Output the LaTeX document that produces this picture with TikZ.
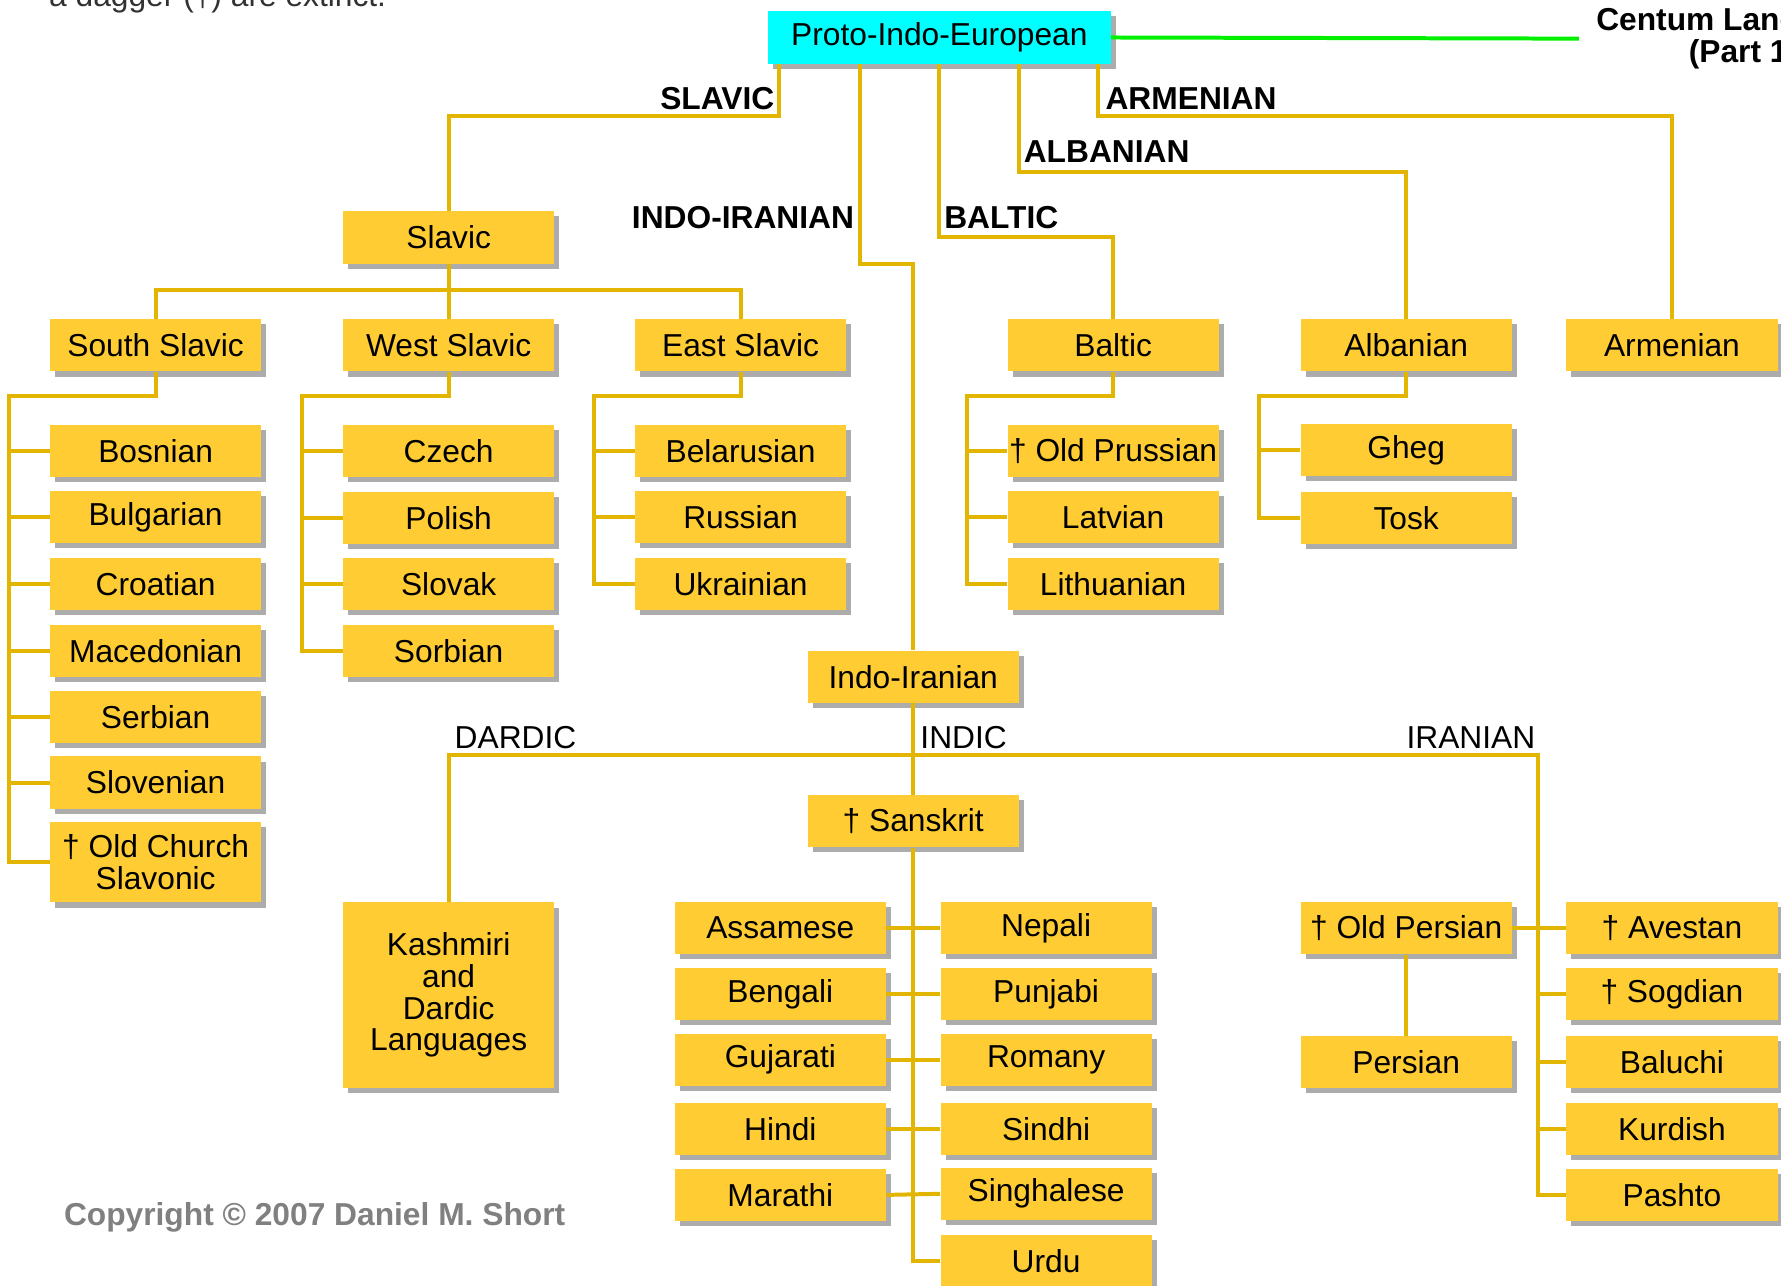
\documentclass[tikz,border=0pt]{standalone}
\usepackage{fontspec}
\setmainfont{Liberation Sans}
\usetikzlibrary{shadows}
\definecolor{boxy}{RGB}{255,204,51}
\definecolor{liney}{RGB}{226,182,0}
\definecolor{shad}{RGB}{172,172,172}
\definecolor{pieblue}{RGB}{0,255,255}
\definecolor{greenline}{RGB}{0,240,0}
\definecolor{copyg}{RGB}{128,128,128}
\definecolor{topg}{RGB}{50,50,50}
\newcommand\langfs{\fontsize{15.9pt}{15.9pt}\selectfont}
\begin{document}
\begin{tikzpicture}[x=0.02cm,y=-0.02cm,
 every node/.style={font=\langfs, inner sep=0pt},
 lang/.style={fill=boxy, minimum width=3.72cm, minimum height=0.92cm, align=center,
   drop shadow={shadow xshift=0.09cm, shadow yshift=-0.09cm, fill=shad, opacity=1}},
 conn/.style={draw=liney, line width=2pt},
 blab/.style={font=\langfs\bfseries, anchor=base west},
 rlab/.style={anchor=base west},
]
\useasboundingbox (0,0) rectangle (1568,1132);

% boxes
\node[lang, fill=pieblue, minimum width=6.04cm] (pie) at (827,33) {Proto-Indo-European};
\node[lang] (slavic) at (395,209) {Slavic};
\node[lang] (ss) at (137,304) {South Slavic};
\node[lang] (ws) at (395,304) {West Slavic};
\node[lang] (es) at (652,304) {East Slavic};
\node[lang] (bal) at (980,304) {Baltic};
\node[lang] (alb) at (1238,304) {Albanian};
\node[lang] (arm) at (1472,304) {Armenian};

\node[lang] (bos) at (137,397) {Bosnian};
\node[lang] (bul) at (137,455) {Bulgarian};
\node[lang] (cro) at (137,514) {Croatian};
\node[lang] (mac) at (137,573) {Macedonian};
\node[lang] (ser) at (137,631) {Serbian};
\node[lang] (slo) at (137,689) {Slovenian};
\node[lang, minimum height=1.42cm] (ocs) at (137,759) {† Old Church\\Slavonic};

\node[lang] (cze) at (395,397) {Czech};
\node[lang] (pol) at (395,456) {Polish};
\node[lang] (slk) at (395,514) {Slovak};
\node[lang] (sor) at (395,573) {Sorbian};

\node[lang] (bel) at (652,397) {Belarusian};
\node[lang] (rus) at (652,455) {Russian};
\node[lang] (ukr) at (652,514) {Ukrainian};

\node[lang] (opr) at (980,397) {† Old Prussian};
\node[lang] (lat) at (980,455) {Latvian};
\node[lang] (lit) at (980,514) {Lithuanian};

\node[lang] (gheg) at (1238,396) {Gheg};
\node[lang] (tosk) at (1238,456) {Tosk};

\node[lang] (ii) at (804,596) {Indo-Iranian};
\node[lang] (skt) at (804,723) {† Sanskrit};
\node[lang, minimum height=3.26cm] (kash) at (395,876) {Kashmiri\\and\\Dardic\\Languages};

\node[lang] (assam) at (687,817) {Assamese};
\node[lang] (beng) at (687,875) {Bengali};
\node[lang] (guj) at (687,933) {Gujarati};
\node[lang] (hindi) at (687,994) {Hindi};
\node[lang] (mar) at (687,1052) {Marathi};

\node[lang] (nep) at (921,817) {Nepali};
\node[lang] (punj) at (921,875) {Punjabi};
\node[lang] (rom) at (921,933) {Romany};
\node[lang] (sindhi) at (921,994) {Sindhi};
\node[lang] (sing) at (921,1051) {Singhalese};
\node[lang] (urdu) at (921,1110) {Urdu};

\node[lang] (opers) at (1238,817) {† Old Persian};
\node[lang] (pers) at (1238,935) {Persian};

\node[lang] (aves) at (1472,817) {† Avestan};
\node[lang] (sogd) at (1472,875) {† Sogdian};
\node[lang] (balu) at (1472,935) {Baluchi};
\node[lang] (kurd) at (1472,994) {Kurdish};
\node[lang] (pash) at (1472,1052) {Pashto};

% labels
\node[blab, anchor=base east] (lslavic) at (682,96) {SLAVIC};
\node[blab] (lii) at (556,201) {INDO-IRANIAN};
\node[blab] (lbal) at (831,201) {BALTIC};
\node[blab] (lalb) at (901,143) {ALBANIAN};
\node[blab] (larm) at (973,96) {ARMENIAN};
\node[rlab] (ldar) at (400,659) {DARDIC};
\node[rlab] (lind) at (810,659) {INDIC};
\node[rlab] (liran) at (1238,659) {IRANIAN};

\node[font=\langfs\bfseries, align=center, anchor=west, inner xsep=0.3cm] (centum) at (1390,34) {Centum Languages\\(Part 1)};
\node[font=\langfs\bfseries, text=copyg, anchor=base west] (copy) at (56,1079) {Copyright © 2007 Daniel M. Short};
\node[anchor=base west, text=topg] (note) at (43,6) {a dagger (†) are extinct.};

% connectors from PIE
\draw[greenline, line width=2pt] (pie.east) -- (centum.west);
\draw[conn] (pie.south -| 686,0) -- (686,102) -| (slavic.north);
\draw[conn] (pie.south -| 757,0) -- (757,232) -| (ii.north);
\draw[conn] (pie.south -| 827,0) -- (827,209) -| (bal.north);
\draw[conn] (pie.south -| 897,0) -- (897,151) -| (alb.north);
\draw[conn] (pie.south -| 967,0) -- (967,102) -| (arm.north);

% Slavic
\draw[conn] (slavic.south) -- (ws.north);
\draw[conn] (ss.north) -- (ss.north |- 0,255) -- (es.north |- 0,255) -- (es.north);
\draw[conn] (ss.south) -- (ss.south |- 0,349) -- (8,349) |- (ocs.west);
\foreach \n in {bos,bul,cro,mac,ser,slo} \draw[conn] (8,0 |- \n.west) -- (\n.west);
\draw[conn] (ws.south) -- (ws.south |- 0,349) -- (266,349) |- (sor.west);
\foreach \n in {cze,pol,slk} \draw[conn] (266,0 |- \n.west) -- (\n.west);
\draw[conn] (es.south) -- (es.south |- 0,349) -- (523,349) |- (ukr.west);
\foreach \n in {bel,rus} \draw[conn] (523,0 |- \n.west) -- (\n.west);

% Baltic, Albanian
\draw[conn] (bal.south) -- (bal.south |- 0,349) -- (851,349) |- (lit.west);
\foreach \n in {opr,lat} \draw[conn] (851,0 |- \n.west) -- (\n.west);
\draw[conn] (alb.south) -- (alb.south |- 0,349) -- (1108,349) |- (tosk.west);
\draw[conn] (1108,0 |- gheg.west) -- (gheg.west);

% Indo-Iranian
\draw[conn] (ii.south) -- (skt.north);
\draw[conn] (kash.north) -- (kash.north |- 0,665) -- (1354,665) |- (pash.west);
\foreach \n in {aves,sogd,balu,kurd} \draw[conn] (1354,0 |- \n.west) -- (\n.west);
\draw[conn] (opers.east) -- (1354,0 |- opers.east);
\draw[conn] (opers.south) -- (pers.north);
\draw[conn] (skt.south) |- (urdu.west);
\draw[conn] (assam.east) -- (nep.west);
\draw[conn] (beng.east) -- (punj.west);
\draw[conn] (guj.east) -- (rom.west);
\draw[conn] (hindi.east) -- (sindhi.west);
\draw[conn] (mar.east) -- (sing.west);
\end{tikzpicture}
\end{document}
